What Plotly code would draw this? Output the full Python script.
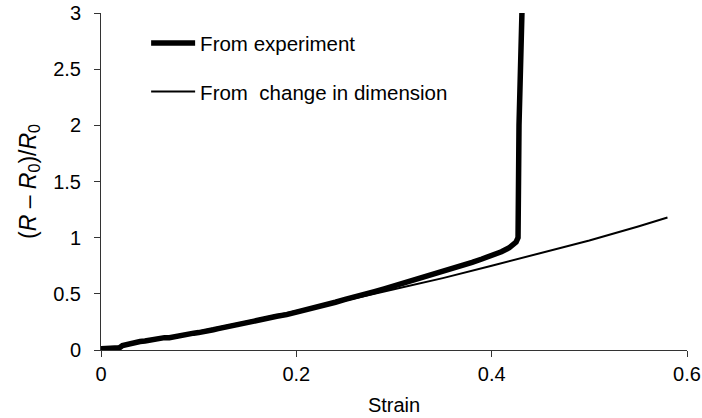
import plotly.graph_objects as go

# Experiment (thick) curve
exp_strain = [0, 0.005, 0.01, 0.015, 0.019, 0.022, 0.026, 0.03, 0.035, 0.04, 0.045,
              0.05, 0.055, 0.06, 0.065, 0.07, 0.075, 0.08, 0.085, 0.09, 0.095, 0.10,
              0.105, 0.11, 0.115, 0.12, 0.13, 0.14, 0.15, 0.16, 0.17, 0.18, 0.19,
              0.20, 0.21, 0.22, 0.23, 0.24, 0.25, 0.26, 0.27, 0.28, 0.29, 0.30,
              0.31, 0.32, 0.33, 0.34, 0.35, 0.36, 0.37, 0.38, 0.39, 0.40, 0.41,
              0.418, 0.422, 0.425, 0.427, 0.428, 0.431]
exp_value = [0.01, 0.01, 0.012, 0.015, 0.02, 0.04, 0.05, 0.06, 0.065, 0.075, 0.08,
             0.09, 0.09, 0.10, 0.11, 0.11, 0.12, 0.13, 0.135, 0.14, 0.15, 0.155,
             0.16, 0.17, 0.18, 0.19, 0.21, 0.23, 0.25, 0.265, 0.28, 0.30, 0.315,
             0.335, 0.355, 0.375, 0.40, 0.425, 0.45, 0.47, 0.49, 0.52, 0.545, 0.57,
             0.595, 0.62, 0.645, 0.67, 0.70, 0.725, 0.75, 0.78, 0.81, 0.84, 0.875,
             0.91, 0.935, 0.96, 1.0, 2.0, 3.0]

# Change in dimension (thin) curve
dim_strain = [0, 0.05, 0.10, 0.15, 0.20, 0.25, 0.30, 0.35, 0.40, 0.45, 0.50, 0.55, 0.58]
dim_value = [0, 0.08, 0.165, 0.255, 0.345, 0.44, 0.54, 0.64, 0.75, 0.86, 0.975, 1.10, 1.18]

x_ticks = [0, 0.2, 0.4, 0.6]
y_ticks = [0, 0.5, 1, 1.5, 2, 2.5, 3]

font = "Liberation Sans, Arial, sans-serif"

fig = go.Figure()
fig.add_trace(go.Scatter(x=exp_strain, y=exp_value, mode="lines",
                         name="From experiment", legendgroup="a",
                         line=dict(color="black", width=5.5)))
fig.add_trace(go.Scatter(x=dim_strain, y=dim_value, mode="lines",
                         name="From  change in dimension", legendgroup="b",
                         line=dict(color="black", width=2)))

fig.update_layout(
    width=702, height=418,
    margin=dict(l=101, r=15, t=13, b=68),
    paper_bgcolor="white", plot_bgcolor="white",
    font=dict(family=font, size=20, color="black"),
    showlegend=True,
    legend=dict(x=0.077, y=0.97, xanchor="left", yanchor="top",
                bgcolor="rgba(0,0,0,0)", tracegroupgap=19,
                font=dict(size=20.5), itemwidth=44),
    xaxis=dict(range=[0, 0.6], tickvals=x_ticks, ticktext=[str(v) for v in x_ticks],
               showgrid=False, zeroline=False, showline=True, linecolor="#333",
               linewidth=1, ticks="outside", ticklen=6, tickcolor="#333",
               ticklabelstandoff=0, automargin=False,
               title=dict(text="Strain", standoff=13, font=dict(size=20)),
               tickfont=dict(size=20)),
    yaxis=dict(range=[0, 3], tickvals=y_ticks, ticktext=[str(v) for v in y_ticks],
               showgrid=False, zeroline=False, showline=True, linecolor="#333",
               linewidth=1, ticks="outside", ticklen=6, tickcolor="#333",
               ticklabelstandoff=9, automargin=False,
               title=dict(text="(<i>R</i> – <i>R</i><sub>0</sub>)/<i>R</i><sub>0</sub>",
                          standoff=10, font=dict(size=23)),
               tickfont=dict(size=20)),
)

fig.write_html("out.html")
